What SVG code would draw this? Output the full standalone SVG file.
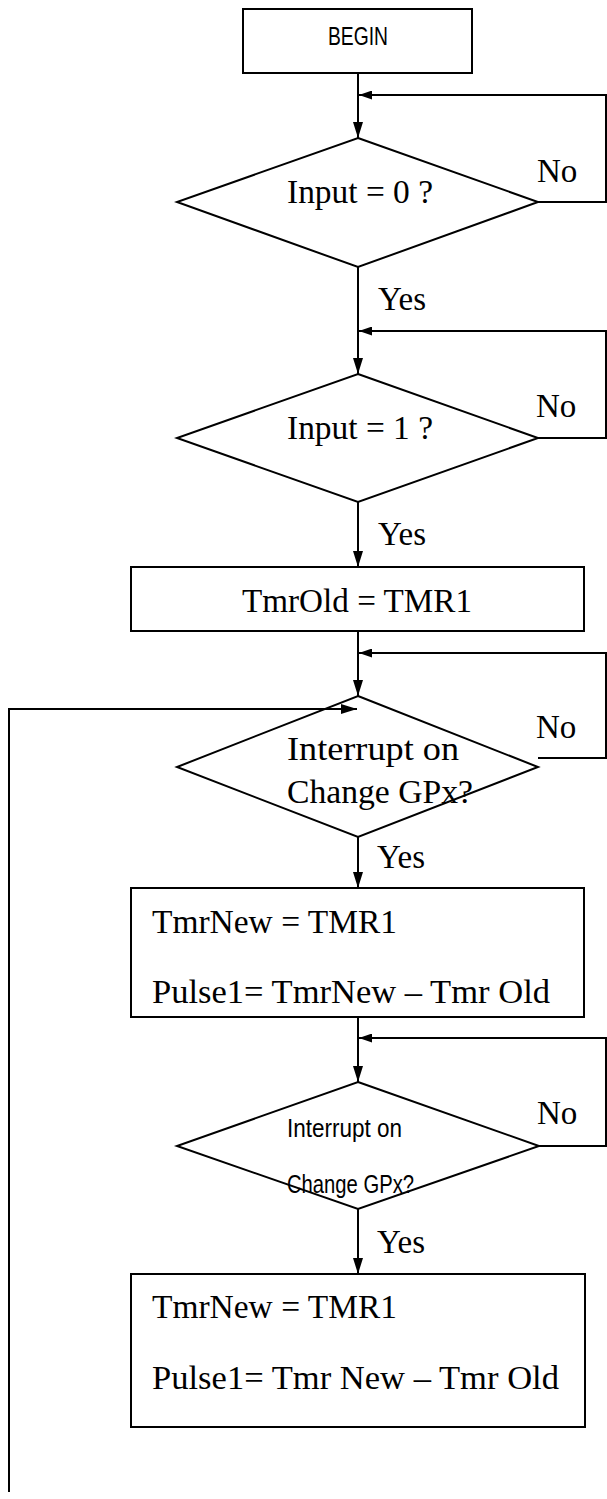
<svg xmlns="http://www.w3.org/2000/svg" width="607" height="1499" viewBox="0 0 607 1499">
<style>
.shape{fill:#fff;stroke:#000;stroke-width:2}
.line{fill:none;stroke:#000;stroke-width:2}
.serif{font-family:"Liberation Serif","Times New Roman",serif;font-size:33px;fill:#000}
.sans{font-family:"Liberation Sans",Arial,sans-serif;font-size:25px;fill:#000}
</style>
<defs>
<marker id="ad" markerUnits="userSpaceOnUse" markerWidth="16" markerHeight="10" refX="16" refY="5" orient="auto"><path d="M0,0 L16,5 L0,10 z" fill="#000"/></marker>
<marker id="al" markerUnits="userSpaceOnUse" markerWidth="13" markerHeight="9" refX="13" refY="4.5" orient="auto"><path d="M0,0 L13,4.5 L0,9 z" fill="#000"/></marker>
</defs>
<rect width="607" height="1499" fill="#fff"/>
<g id="begin">
<rect class="shape" x="243" y="9" width="229" height="64"/>
<text class="sans" x="328" y="45" textLength="60" lengthAdjust="spacingAndGlyphs">BEGIN</text>
</g>
<g id="input0">
<polygon class="shape" points="358,138 538,202 358,267 177,202"/>
<text class="serif" x="287" y="203" textLength="146" lengthAdjust="spacingAndGlyphs">Input = 0 ?</text>
</g>
<g id="input1">
<polygon class="shape" points="358,374 538,438 358,502 177,438"/>
<text class="serif" x="287" y="439" textLength="146" lengthAdjust="spacingAndGlyphs">Input = 1 ?</text>
</g>
<g id="tmrold">
<rect class="shape" x="131" y="567" width="453" height="64"/>
<text class="serif" x="242" y="612" textLength="230" lengthAdjust="spacingAndGlyphs">TmrOld = TMR1</text>
</g>
<g id="interrupt1">
<polygon class="shape" points="358,696 538,767 358,837 177,767"/>
<text class="serif" x="287" y="760" textLength="172" lengthAdjust="spacingAndGlyphs">Interrupt on</text>
<text class="serif" x="287" y="803" textLength="186" lengthAdjust="spacingAndGlyphs">Change GPx?</text>
</g>
<g id="pulse1a">
<rect class="shape" x="131" y="888" width="453" height="129"/>
<text class="serif" x="152" y="933" textLength="245" lengthAdjust="spacingAndGlyphs">TmrNew = TMR1</text>
<text class="serif" x="152" y="1003" textLength="398" lengthAdjust="spacingAndGlyphs">Pulse1= TmrNew – Tmr Old</text>
</g>
<g id="interrupt2">
<polygon class="shape" points="358,1082 539,1146 358,1209 177,1146"/>
<text class="sans" x="287" y="1137" textLength="115" lengthAdjust="spacingAndGlyphs">Interrupt on</text>
<text class="sans" x="287" y="1193" textLength="127" lengthAdjust="spacingAndGlyphs">Change GPx?</text>
</g>
<g id="pulse1b">
<rect class="shape" x="131" y="1274" width="454" height="153"/>
<text class="serif" x="152" y="1318" textLength="245" lengthAdjust="spacingAndGlyphs">TmrNew = TMR1</text>
<text class="serif" x="152" y="1389" textLength="407" lengthAdjust="spacingAndGlyphs">Pulse1= Tmr New – Tmr Old</text>
</g>
<g id="connectors">
<line class="line" x1="358" y1="73" x2="358" y2="138" marker-end="url(#ad)"/>
<line class="line" x1="358" y1="267" x2="358" y2="374" marker-end="url(#ad)"/>
<line class="line" x1="358" y1="502" x2="358" y2="567" marker-end="url(#ad)"/>
<line class="line" x1="358" y1="631" x2="358" y2="696" marker-end="url(#ad)"/>
<line class="line" x1="358" y1="837" x2="358" y2="888" marker-end="url(#ad)"/>
<line class="line" x1="358" y1="1017" x2="358" y2="1082" marker-end="url(#ad)"/>
<line class="line" x1="358" y1="1209" x2="358" y2="1274" marker-end="url(#ad)"/>
<polyline class="line" points="538,202 606,202 606,95 359,95" marker-end="url(#al)"/>
<polyline class="line" points="538,438 606,438 606,331 359,331" marker-end="url(#al)"/>
<polyline class="line" points="538,758 606,758 606,653 359,653" marker-end="url(#al)"/>
<polyline class="line" points="539,1146 606,1146 606,1038 359,1038" marker-end="url(#al)"/>
<polyline class="line" points="9,1492 9,709 357,709" marker-end="url(#ad)"/>
<text class="serif" x="537" y="182">No</text>
<text class="serif" x="536" y="417">No</text>
<text class="serif" x="536" y="738">No</text>
<text class="serif" x="537" y="1124">No</text>
<text class="serif" x="378" y="310">Yes</text>
<text class="serif" x="378" y="545">Yes</text>
<text class="serif" x="377" y="868">Yes</text>
<text class="serif" x="377" y="1253">Yes</text>
</g>
</svg>
